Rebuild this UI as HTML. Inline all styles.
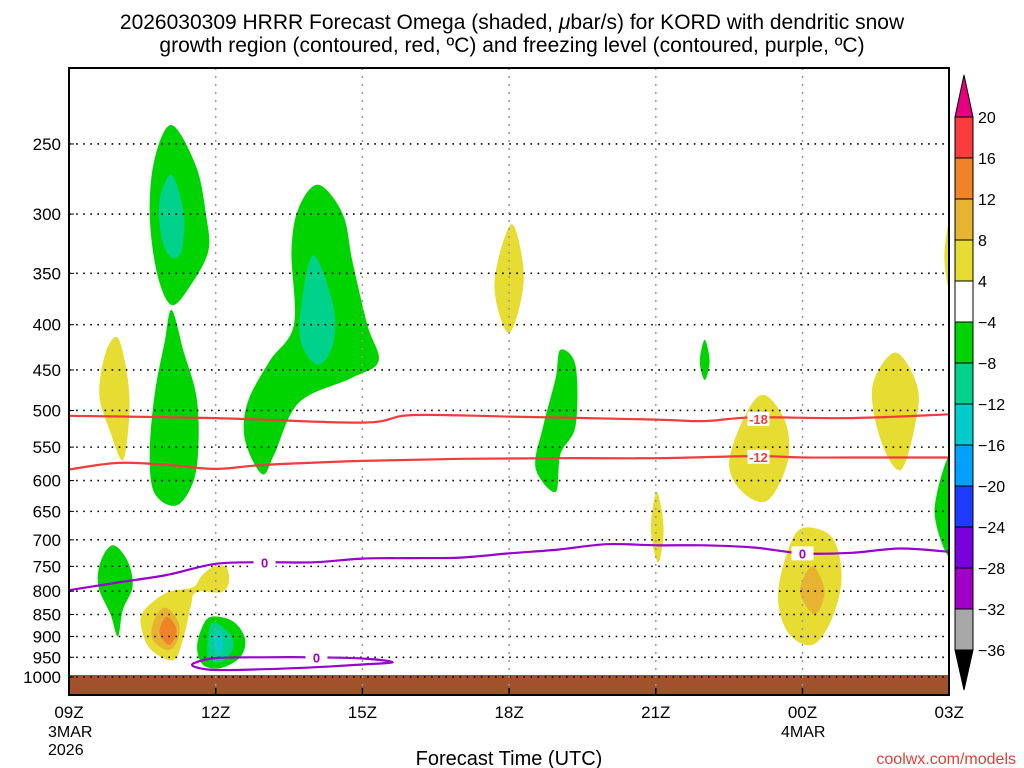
<!DOCTYPE html>
<html><head><meta charset="utf-8"><style>
html,body{margin:0;padding:0;background:#fff;}
svg{display:block;font-family:"Liberation Sans",sans-serif;}
</style></head><body>
<svg id="chart" width="1024" height="768" viewBox="0 0 1024 768">
<text x="512" y="29" text-anchor="middle" font-size="21">2026030309 HRRR Forecast Omega (shaded, <tspan font-style="italic">μ</tspan>bar/s) for KORD with dendritic snow</text>
<text x="512" y="52" text-anchor="middle" font-size="21">growth region (contoured, red, ºC) and freezing level (contoured, purple, ºC)</text>
<defs><clipPath id="pc"><rect x="69" y="68" width="880" height="627"/></clipPath></defs>
<g id="shades"></g>
<rect x="69" y="675" width="880" height="20" fill="#a0522d"/>
<g id="grid"></g>
<g id="contours"></g>
<rect x="69" y="68" width="880" height="627" fill="none" stroke="#000" stroke-width="2"/>
<g id="yaxis"></g>
<g id="xaxis"></g>
<text x="509" y="765" text-anchor="middle" font-size="20">Forecast Time (UTC)</text>
<text x="1016" y="764" text-anchor="end" font-size="16" fill="#e0403a">coolwx.com/models</text>
<g id="cbar"></g>
</svg>
<script>
const pTicks=[250,300,350,400,450,500,550,600,650,700,750,800,850,900,950,1000];
const xTickHours=[0,3,6,9,12,15,18];
const xTickLabels=["09Z","12Z","15Z","18Z","21Z","00Z","03Z"];
const cbLevels=[20,16,12,8,4,-4,-8,-12,-16,-20,-24,-28,-32,-36];
const cbColors=["#fa3c3c","#f08228","#e6b432","#e6dc32","#ffffff","#00d400","#00d28c","#00cccc","#00a0ff","#1e3cff","#7800dc","#a000c8","#a8a8a8"];
const blobs=[
 {c:5,pts:[[2.1,238],[2.6,265],[2.8,300],[2.85,330],[2.5,360],[2.1,380],[1.8,350],[1.65,300],[1.75,260]]},
 {c:6,pts:[[2.1,271],[2.35,300],[2.3,330],[2.1,336],[1.9,320],[1.85,290]]},
 {c:5,pts:[[2.1,385],[2.35,430],[2.6,480],[2.65,540],[2.55,600],[2.2,640],[1.75,620],[1.65,560],[1.75,480],[1.95,420]]},
 {c:5,pts:[[5.1,278],[5.6,300],[5.8,340],[6.1,400],[6.33,440],[5.76,460],[4.7,490],[4.2,560],[3.95,590],[3.6,540],[3.65,490],[4.1,440],[4.6,400],[4.55,330],[4.7,295]]},
 {c:6,pts:[[5.0,334],[5.4,380],[5.4,420],[5.1,444],[4.75,420],[4.75,380]]},
 {c:3,pts:[[1.0,414],[1.2,460],[1.23,510],[1.1,569],[0.85,530],[0.62,480],[0.75,430]]},
 {c:5,pts:[[0.9,710],[1.2,740],[1.3,790],[1.1,840],[1.0,900],[0.85,850],[0.6,790],[0.65,740]]},
 {c:3,pts:[[3.21,751],[3.27,781],[3.11,802],[2.6,802],[2.49,832],[2.33,908],[2.13,957],[1.68,932],[1.49,885],[1.51,845],[1.98,804],[2.53,792],[2.7,770],[2.94,751]]},
 {c:2,pts:[[1.98,835],[2.25,870],[2.2,915],[2.0,932],[1.7,905],[1.75,860]]},
 {c:1,pts:[[2.0,855],[2.2,885],[2.05,920],[1.85,890]]},
 {c:5,pts:[[2.9,855],[3.35,865],[3.6,905],[3.5,950],[3.1,977],[2.75,970],[2.62,930],[2.7,885]]},
 {c:6,pts:[[2.95,867],[3.3,895],[3.35,930],[3.1,962],[2.85,950],[2.85,900]]},
 {c:7,pts:[[3.05,885],[3.15,910],[3.08,945],[2.95,915]]},
 {c:3,pts:[[9.05,308],[9.3,355],[9.0,409],[8.7,360]]},
 {c:5,pts:[[10.05,427],[10.36,445],[10.36,520],[10.05,560],[9.95,618],[9.54,580],[9.7,520],[9.95,460]]},
 {c:3,pts:[[12.02,618],[12.16,680],[12.05,743],[11.9,680]]},
 {c:5,pts:[[13.0,416],[13.1,440],[13.0,462],[12.9,440]]},
 {c:3,pts:[[14.2,480],[14.65,515],[14.7,570],[14.3,631],[13.8,620],[13.5,575],[13.8,510]]},
 {c:3,pts:[[15.0,679],[15.6,695],[15.8,770],[15.6,860],[15.2,920],[14.7,890],[14.5,810],[14.7,720]]},
 {c:2,pts:[[15.2,750],[15.45,800],[15.25,850],[14.95,800]]},
 {c:3,pts:[[16.9,430],[17.35,470],[17.3,520],[17.0,584],[16.6,540],[16.43,470]]},
 {c:3,pts:[[18.05,300],[17.9,335],[18.05,372]]},
 {c:5,pts:[[18.05,560],[17.7,650],[18.05,730]]}
];
const dgzHours1=[0,3,6,7,9,12,13,14,16,18];
const dgzP18=[507,510,516,506,508,512,514,509,510,505];
const dgzHours2=[0,1,2,3,4,6,8,10,12,14,15,16,18];
const dgzP12=[583,573,576,582,576,570,567,566,566,563,565,565,565];
const frzHours=[0,1,2,3,4,5,6,7,8,9,10,11,12,13,14,15,16,17,18];
const frzP=[798,782,767,745,742,742,735,734,733,725,718,708,710,710,714,725,724,716,722];
const loopPts=[[2.55,965],[3,952],[4,950],[5,950],[6,953],[6.62,962],[6,968],[5,975],[4,980],[3,982],[2.6,975]];

const NS="http://www.w3.org/2000/svg";
const X=h=>69+48.9*h;
const Y=p=>677-384.5*Math.log(1000/p);
function mk(tag,attrs,parent){const e=document.createElementNS(NS,tag);for(const k in attrs)e.setAttribute(k,attrs[k]);parent.appendChild(e);return e;}
function smooth(pts,closed){
 const P=pts.map(q=>[X(q[0]),Y(q[1])]);const n=P.length;let d="M"+P[0][0].toFixed(1)+","+P[0][1].toFixed(1);
 const last=closed?n:n-1;
 for(let i=0;i<last;i++){
  const p0=P[closed?(i-1+n)%n:Math.max(i-1,0)],p1=P[i],p2=P[(i+1)%n],p3=P[closed?(i+2)%n:Math.min(i+2,n-1)];
  const c1=[p1[0]+(p2[0]-p0[0])/6,p1[1]+(p2[1]-p0[1])/6],c2=[p2[0]-(p3[0]-p1[0])/6,p2[1]-(p3[1]-p1[1])/6];
  d+="C"+c1.map(v=>v.toFixed(1)).join(",")+" "+c2.map(v=>v.toFixed(1)).join(",")+" "+p2.map(v=>v.toFixed(1)).join(",");
 }
 return d+(closed?"Z":"");
}
const shades=document.getElementById('shades');
blobs.forEach((b,i)=>{const e=mk('path',{d:smooth(b.pts,true),fill:cbColors[b.c],'clip-path':'url(#pc)'},shades);
 
 });
const grid=document.getElementById('grid'),ya=document.getElementById('yaxis'),xa=document.getElementById('xaxis');
pTicks.forEach(p=>{const y=Y(p);
 const l=mk('line',{x1:69,x2:949,y1:y,y2:y,stroke:'#000','stroke-width':1.6,'stroke-dasharray':'1.6 5.5'},grid);
 
 
 const t=mk('text',{x:61,y:y+6,'text-anchor':'end','font-size':17},ya);t.textContent=p;
 
 
 mk('line',{x1:69,x2:74,y1:y,y2:y,stroke:'#000'},ya);
});
xTickHours.forEach((h,i)=>{const x=X(h);
 if(i>0&&i<6){const l=mk('line',{x1:x,x2:x,y1:68,y2:695,stroke:'#999','stroke-width':1.5,'stroke-dasharray':'2 6'},grid);
  
  }
 mk('line',{x1:x,x2:x,y1:688,y2:695,stroke:'#000','stroke-width':1.5},xa);
 const t=mk('text',{x:x,y:718,'text-anchor':'middle','font-size':17},xa);t.textContent=xTickLabels[i];
 
 
});
[["3MAR",48,737],["2026",48,755],["4MAR",781,737]].forEach(a=>{const t=mk('text',{x:a[1],y:a[2],'font-size':16},xa);t.textContent=a[0];
 
 });
const ct=document.getElementById('contours');
function line(hs,ps,col,name){const e=mk('path',{d:smooth(hs.map((h,i)=>[h,ps[i]]),false),fill:'none',stroke:col,'stroke-width':2.2},ct);
 
 }
line(dgzHours1,dgzP18,'#f03c3c','contour-minus18');
line(dgzHours2,dgzP12,'#f03c3c','contour-minus12');
line(frzHours,frzP,'#9900cc','freezing-level-0');
const lp=mk('path',{d:smooth(loopPts,true),fill:'none',stroke:'#9900cc','stroke-width':2.2},ct);


function lab(txt,h,p,col){const x=X(h),y=Y(p);mk('rect',{x:x-11,y:y-7,width:22,height:14,fill:'#fff'},ct);
 const t=mk('text',{x:x,y:y+5,'text-anchor':'middle','font-size':13,'font-weight':'bold',fill:col},ct);t.textContent=txt;
 
 }
lab('-18',14.1,511,'#f03c3c');lab('-12',14.1,564,'#f03c3c');
lab('0',4.0,742,'#9900cc');lab('0',15.0,725,'#9900cc');lab('0',5.06,950,'#9900cc');
const cb=document.getElementById('cbar');const bx=955,bw=18,cbTop=117,step=(650-117)/13;
mk('path',{d:`M${bx},${cbTop} L${bx+bw/2},75 L${bx+bw},${cbTop}Z`,fill:'#e6007f',stroke:'#000'},cb);
cbColors.forEach((c,i)=>{const r=mk('rect',{x:bx,y:cbTop+i*step,width:bw,height:step,fill:c,stroke:'#000','stroke-width':1},cb);
 
 });
mk('path',{d:`M${bx},650 L${bx+bw/2},690 L${bx+bw},650Z`,fill:'#000',stroke:'#000'},cb);
cbLevels.forEach((v,i)=>{const t=mk('text',{x:978,y:cbTop+i*step+6,'font-size':16},cb);t.textContent=v<0?'\u2212'+(-v):v;
 
 });
</script>
</body></html>
